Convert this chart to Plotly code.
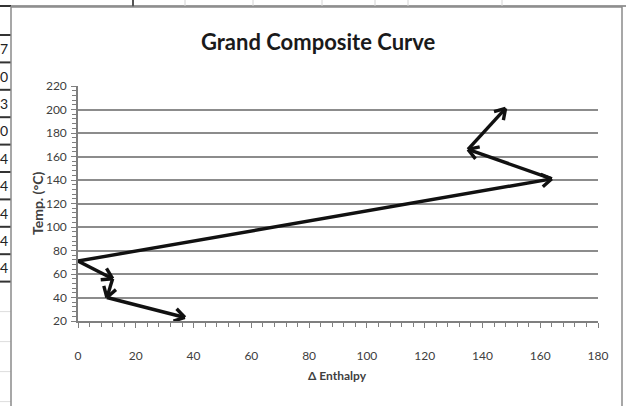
import math
import plotly.graph_objects as go

# Grand composite curve, drawn as two branches leaving the pinch point
lower_enthalpy = [0, 12, 10, 37]
lower_temp = [71, 56, 40, 23]
upper_enthalpy = [0, 164, 135, 148]
upper_temp = [71, 141, 166, 201]

x_ticks = [0, 20, 40, 60, 80, 100, 120, 140, 160, 180]
y_ticks = [20, 40, 60, 80, 100, 120, 140, 160, 180, 200, 220]

# spreadsheet cells peeking out at the left of the chart
cell_digits = ["7", "0", "3", "0", "4", "4", "4", "4", "4"]

W, H = 626, 406
ML, MR, MT, MB = 78, 28, 86, 85
PW, PH = W - ML - MR, H - MT - MB
XR = (0, 180)
YR = (20, 220)
SX = PW / (XR[1] - XR[0])
SY = PH / (YR[1] - YR[0])

FONT = "Lato, Open Sans, Arial, sans-serif"
LINE = "#111111"


def px(x):
    return (x - ML) / PW


def py(y):
    return (H - MB - y) / PH


def branch_xy(xs, ys, wing=12, ang=32):
    """Polyline with an open arrowhead at the end of each segment."""
    lx, ly = [], []
    hx, hy = [], []
    for i in range(len(xs) - 1):
        x0, y0, x1, y1 = xs[i], ys[i], xs[i + 1], ys[i + 1]
        lx += [x0, x1, None]
        ly += [y0, y1, None]
        dxp = (x1 - x0) * SX
        dyp = (y1 - y0) * SY
        n = math.hypot(dxp, dyp)
        ux, uy = dxp / n, dyp / n
        for s in (1, -1):
            a = math.radians(ang) * s
            rx = ux * math.cos(a) - uy * math.sin(a)
            ry = ux * math.sin(a) + uy * math.cos(a)
            hx += [x1 - wing * rx / SX, x1, None]
            hy += [y1 - wing * ry / SY, y1, None]
    return lx + hx, ly + hy


fig = go.Figure()
for xs, ys in ((lower_enthalpy, lower_temp), (upper_enthalpy, upper_temp)):
    bx, by = branch_xy(xs, ys)
    fig.add_trace(go.Scatter(
        x=bx, y=by, mode="lines", hoverinfo="skip", showlegend=False,
        line=dict(color=LINE, width=3.4),
    ))

shapes = []
annotations = []

# spreadsheet backdrop: top header strip and column separators
shapes.append(dict(type="line", xref="paper", yref="paper",
                   x0=px(0), x1=px(W), y0=py(6), y1=py(6),
                   line=dict(color="#9a9a9a", width=2)))
shapes.append(dict(type="line", xref="paper", yref="paper",
                   x0=px(0), x1=px(11), y0=py(6), y1=py(6),
                   line=dict(color="#333333", width=2)))
for cx in (185, 253, 322, 375, 408, 502):
    shapes.append(dict(type="line", xref="paper", yref="paper",
                       x0=px(cx), x1=px(cx), y0=py(0), y1=py(6),
                       line=dict(color="#d4d4d4", width=1)))
shapes.append(dict(type="line", xref="paper", yref="paper",
                   x0=px(133), x1=px(133), y0=py(0), y1=py(7),
                   line=dict(color="#555555", width=2)))

# left column of cells
row_top, row_h = 35, 27.4
for i, d in enumerate(cell_digits):
    y0 = row_top + i * row_h
    shapes.append(dict(type="line", xref="paper", yref="paper",
                       x0=px(0), x1=px(11), y0=py(y0), y1=py(y0),
                       line=dict(color="#333333", width=2)))
    annotations.append(dict(xref="paper", yref="paper",
                            x=px(10), y=py(y0 + row_h / 2), text=d,
                            showarrow=False, xanchor="right", yanchor="middle",
                            font=dict(family=FONT, size=14, color="#222222")))
y_end = row_top + len(cell_digits) * row_h
shapes.append(dict(type="line", xref="paper", yref="paper",
                   x0=px(0), x1=px(11), y0=py(y_end), y1=py(y_end),
                   line=dict(color="#333333", width=2)))
for k in range(1, 5):
    yy = y_end + k * 30
    shapes.append(dict(type="line", xref="paper", yref="paper",
                       x0=px(0), x1=px(11), y0=py(yy), y1=py(yy),
                       line=dict(color="#dddddd", width=1)))

# chart frame
shapes.append(dict(type="rect", xref="paper", yref="paper",
                   x0=px(11), x1=px(622), y0=py(7), y1=py(H + 5),
                   line=dict(color="#8a8a8a", width=1.5)))

# titles
annotations.append(dict(xref="paper", yref="paper", x=px(318), y=py(42),
                        text="<b>Grand Composite Curve</b>", showarrow=False,
                        xanchor="center", yanchor="middle",
                        font=dict(family=FONT, size=22, color="#1a1a1a")))
annotations.append(dict(xref="paper", yref="paper", x=px(337), y=py(375),
                        text="<b>Δ Enthalpy</b>", showarrow=False,
                        xanchor="center", yanchor="middle",
                        font=dict(family=FONT, size=12, color="#404040")))
annotations.append(dict(xref="paper", yref="paper", x=px(37), y=py(203),
                        text="<b>Temp. (°C)</b>", showarrow=False, textangle=-90,
                        xanchor="center", yanchor="middle",
                        font=dict(family=FONT, size=14, color="#404040")))

fig.update_layout(
    width=W, height=H,
    margin=dict(l=ML, r=MR, t=MT, b=MB, pad=0),
    paper_bgcolor="white", plot_bgcolor="white",
    shapes=shapes, annotations=annotations,
    xaxis=dict(
        range=list(XR), tickvals=x_ticks, ticktext=[str(v) for v in x_ticks],
        showgrid=False, zeroline=False, showline=True,
        linecolor="#7f7f7f", linewidth=1.5,
        ticks="outside", ticklen=5, tickcolor="#7f7f7f",
        ticklabelstandoff=18,
        minor=dict(dtick=4, ticks="outside", ticklen=4, tickcolor="#7f7f7f"),
        tickfont=dict(family=FONT, size=12, color="#404040"),
    ),
    yaxis=dict(
        range=list(YR), tickvals=y_ticks, ticktext=[str(v) for v in y_ticks],
        showgrid=True, gridcolor="#8c8c8c", gridwidth=1.6,
        zeroline=False, showline=True,
        linecolor="#7f7f7f", linewidth=1.5,
        ticks="outside", ticklen=5, tickcolor="#7f7f7f",
        ticklabelstandoff=2,
        minor=dict(dtick=4, ticks="outside", ticklen=4, tickcolor="#7f7f7f",
                   showgrid=False),
        tickfont=dict(family=FONT, size=12, color="#404040"),
    ),
)

fig.write_html("out.html")
